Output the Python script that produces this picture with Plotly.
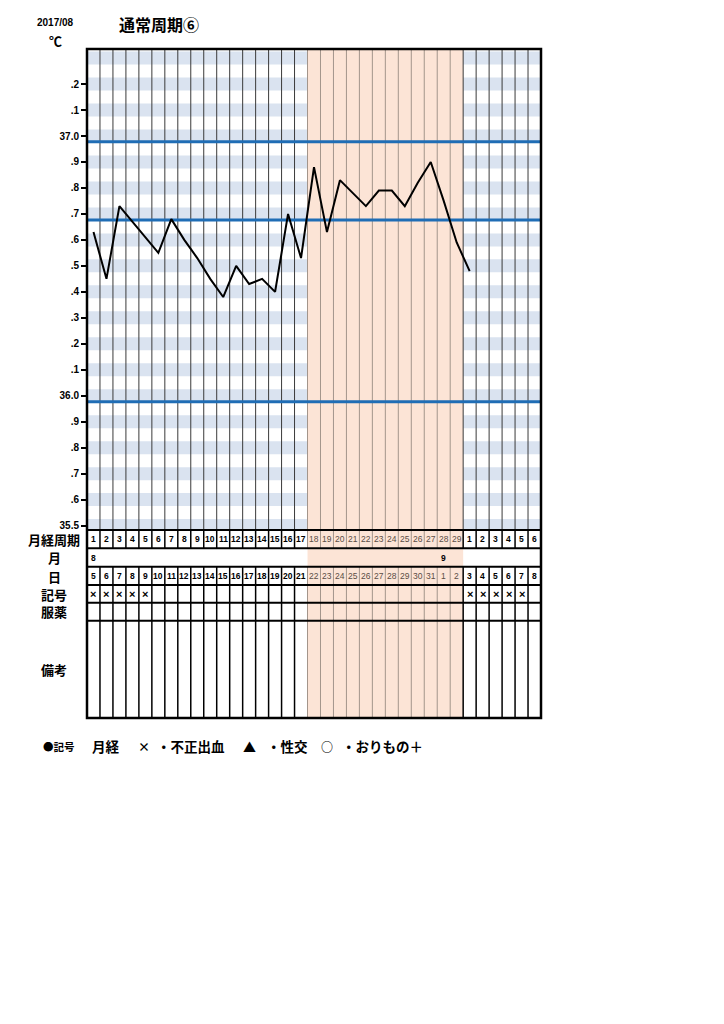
import plotly.graph_objects as go

W, H = 724, 1024

# ---------------- data ----------------
cycle_day_labels = [1, 2, 3, 4, 5, 6, 7, 8, 9, 10, 11, 12, 13, 14, 15, 16, 17, 18, 19, 20,
                    21, 22, 23, 24, 25, 26, 27, 28, 29, 1, 2, 3, 4, 5, 6]
date_labels = [5, 6, 7, 8, 9, 10, 11, 12, 13, 14, 15, 16, 17, 18, 19, 20, 21, 22, 23, 24,
               25, 26, 27, 28, 29, 30, 31, 1, 2, 3, 4, 5, 6, 7, 8]
month_cols = [1, 28]
month_text = ["8", "9"]
mark_cols = [1, 2, 3, 4, 5, 30, 31, 32, 33, 34]
mark_text = "×"
temp_cols = [1, 2, 3, 4, 5, 6, 7, 8, 9, 10, 11, 12, 13, 14, 15, 16, 17, 18, 19, 20,
             21, 22, 23, 24, 25, 26, 27, 28, 29, 30]
temps = [36.63, 36.45, 36.73, 36.67, 36.61, 36.55, 36.68, 36.60, 36.53, 36.45,
         36.38, 36.50, 36.43, 36.45, 36.40, 36.70, 36.53, 36.88, 36.63, 36.83,
         36.78, 36.73, 36.79, 36.79, 36.73, 36.82, 36.90, 36.75, 36.59, 36.48]
high_phase = [18, 29]
ref_lines = [36.978, 36.677, 35.977]
y_tick_vals = [37.2, 37.1, 37.0, 36.9, 36.8, 36.7, 36.6, 36.5, 36.4, 36.3, 36.2, 36.1,
               36.0, 35.9, 35.8, 35.7, 35.6, 35.5]
y_tick_text = [".2", ".1", "37.0", ".9", ".8", ".7", ".6", ".5", ".4", ".3", ".2", ".1",
               "36.0", ".9", ".8", ".7", ".6", "35.5"]
band_centers = [37.3] + y_tick_vals
row_labels = ["月経周期", "月", "日", "記号", "服薬", "備考"]
legend_items = ["●記号", "月経", "×", "・不正出血", "▲", "・性交", "○", "・おりもの＋"]
title_text = "通常周期⑥"
period_text = "2017/08"
unit_text = "℃"

# ---------------- layout geometry ----------------
NCOL = len(cycle_day_labels)
OFF = 8                                     # page body margin offset
PL, PR, PT, PB = 87, 541, 49, 530           # plot box pixels (screen)
YMIN, YMAX = 35.483, 37.335
row_lines = [530, 548.3, 566.7, 585, 602.7, 620.7, 718]
row_centers = [539.4, 557.5, 576, 594, 611.7, 669]
legend_x = [41, 90, 136, 155, 241, 265, 319, 340]
legend_sizes = [10.5, 13.5, 12, 13.5, 13, 13.5, 12, 13.5]


def py(p):
    return 1 - (p - OFF) / H


def px(p):
    return (p - OFF) / W


CJK = "Noto Sans CJK JP"
LAT = "Liberation Sans"
shade_color = "#fce4d6"
band_color = "#dae3f0"
blue = "#1f6db5"

fig = go.Figure()
fig.add_trace(go.Scatter(x=temp_cols, y=temps, mode="lines",
                         line=dict(color="black", width=2), hoverinfo="skip",
                         showlegend=False))

shapes = []
# high phase shading (plot + table)
shapes.append(dict(type="rect", xref="x", yref="paper", x0=high_phase[0] - 0.5,
                   x1=high_phase[1] + 0.5, y0=py(row_lines[-1]), y1=py(PT),
                   fillcolor=shade_color, line=dict(width=0), layer="below"))
# blue-grey bands outside the shaded phase
for c in band_centers:
    for (xa, xb) in [(0.5, high_phase[0] - 0.5), (high_phase[1] + 0.5, NCOL + 0.5)]:
        shapes.append(dict(type="rect", xref="x", yref="y", x0=xa, x1=xb,
                           y0=max(c - 0.025, YMIN), y1=min(c + 0.025, YMAX),
                           fillcolor=band_color, line=dict(width=0), layer="below"))


def in_shade(b):
    return high_phase[0] - 0.5 <= b <= high_phase[1] - 0.5


for k in range(1, NCOL):
    b = k + 0.5
    col = "#a3958b" if in_shade(b) else "#3a3a3a"
    shapes.append(dict(type="line", xref="x", yref="y", x0=b, x1=b, y0=YMIN, y1=YMAX,
                       line=dict(color=col, width=1), layer="below"))
for v in ref_lines:
    shapes.append(dict(type="line", xref="x", yref="y", x0=0.5, x1=NCOL + 0.5, y0=v, y1=v,
                       line=dict(color=blue, width=3), layer="below"))
for k in range(1, NCOL):
    b = k + 0.5
    shaded = in_shade(b)
    col = "#a3958b" if shaded else "black"
    wid = 1 if shaded else 1.5
    for (a, z) in [(row_lines[0], row_lines[1]), (row_lines[2], row_lines[-1])]:
        shapes.append(dict(type="line", xref="x", yref="paper", x0=b, x1=b,
                           y0=py(z), y1=py(a), line=dict(color=col, width=wid),
                           layer="above"))
for r in row_lines:
    shapes.append(dict(type="line", xref="paper", yref="paper", x0=px(PL), x1=px(PR),
                       y0=py(r), y1=py(r), line=dict(color="black", width=2),
                       layer="above"))
shapes.append(dict(type="rect", xref="paper", yref="paper", x0=px(PL), x1=px(PR),
                   y0=py(row_lines[-1]), y1=py(PT), line=dict(color="black", width=2.5),
                   fillcolor="rgba(0,0,0,0)", layer="above"))

ann = []


def num_font(col):
    shaded = high_phase[0] <= col <= high_phase[1]
    return dict(family=LAT, size=8.5, color="#5a4d45" if shaded else "black",
                weight="normal" if shaded else "bold")


for i, lab in enumerate(cycle_day_labels):
    ann.append(dict(x=i + 1, y=py(row_centers[0]), xref="x", yref="paper", text=str(lab),
                    showarrow=False, xanchor="center", font=num_font(i + 1)))
for c, t in zip(month_cols, month_text):
    ann.append(dict(x=c, y=py(row_centers[1]), xref="x", yref="paper", text=t,
                    showarrow=False, xanchor="center",
                    font=dict(family=LAT, size=8.5, color="black", weight="bold")))
for i, lab in enumerate(date_labels):
    ann.append(dict(x=i + 1, y=py(row_centers[2]), xref="x", yref="paper", text=str(lab),
                    showarrow=False, xanchor="center", font=num_font(i + 1)))
for c in mark_cols:
    ann.append(dict(x=c, y=py(row_centers[3]), xref="x", yref="paper", text=mark_text,
                    showarrow=False, xanchor="center",
                    font=dict(family=LAT, size=11, color="black", weight="bold")))
for lab, yc in zip(row_labels, row_centers):
    ann.append(dict(x=px(54), y=py(yc), xref="paper", yref="paper", text=lab,
                    showarrow=False, xanchor="center", yanchor="middle",
                    font=dict(family=CJK, size=13, color="black", weight="bold")))
for t, xl, s in zip(legend_items, legend_x, legend_sizes):
    ann.append(dict(x=px(xl), y=py(746), xref="paper", yref="paper", text=t,
                    xanchor="left", yanchor="middle", showarrow=False,
                    font=dict(family=CJK, size=s, color="black", weight="bold")))
ann.append(dict(x=px(117), y=py(24), xref="paper", yref="paper", text=title_text,
                xanchor="left", yanchor="middle", showarrow=False,
                font=dict(family=CJK, size=16, color="black", weight="bold")))
ann.append(dict(x=px(35), y=py(22), xref="paper", yref="paper", text=period_text,
                xanchor="left", yanchor="middle", showarrow=False,
                font=dict(family=LAT, size=10, color="black", weight="bold")))
ann.append(dict(x=px(55), y=py(40), xref="paper", yref="paper", text=unit_text,
                xanchor="center", yanchor="middle", showarrow=False,
                font=dict(family=CJK, size=13, color="black", weight="bold")))

fig.update_layout(
    width=W, height=H, margin=dict(l=0, r=0, t=0, b=0),
    paper_bgcolor="white", plot_bgcolor="white",
    showlegend=False, shapes=shapes, annotations=ann,
    xaxis=dict(domain=[px(PL), px(PR)], range=[0.5, NCOL + 0.5], showgrid=False,
               zeroline=False, showticklabels=False, ticks="", showline=False,
               fixedrange=True),
    yaxis=dict(domain=[py(PB), py(PT)], range=[YMIN, YMAX], showgrid=False,
               zeroline=False, showline=False, tickvals=y_tick_vals,
               ticktext=y_tick_text, ticks="outside", ticklen=5, tickwidth=1.5,
               tickcolor="black",
               tickfont=dict(family=LAT, size=10, color="black", weight="bold"),
               fixedrange=True),
)

fig.write_html("out.html")
